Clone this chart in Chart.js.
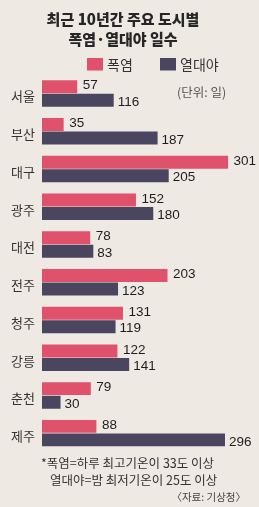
<!DOCTYPE html>
<html><head><meta charset="utf-8">
<script src="https://cdn.jsdelivr.net/npm/chart.js@4"></script>
<style>
html,body{margin:0;padding:0;background:#efe9e4;}
#wrap{position:relative;width:259px;height:507px;}
</style></head>
<body><div id="wrap"><canvas id="c" width="259" height="507"></canvas></div>
<script>
const titleLines = ['최근 10년간 주요 도시별', '폭염·열대야 일수'];
const categories = ['서울','부산','대구','광주','대전','전주','청주','강릉','춘천','제주'];
const seriesNames = ['폭염','열대야'];
const heatwave = [57,35,301,152,78,203,131,122,79,88];
const tropical = [116,187,205,180,83,123,119,141,30,296];
const unitText = '(단위: 일)';
const notes = ['*폭염=하루 최고기온이 33도 이상','열대야=밤 최저기온이 25도 이상'];
const source = '〈자료: 기상청〉';

const PINK = '#e0526c', DARK = '#4a4660';
const KR = '"Noto Sans CJK KR","Noto Sans",sans-serif';

const extras = {
  id:'extras',
  afterDatasetsDraw(chart){
    const ctx = chart.ctx;
    ctx.save();
    const legendX = [87, 160];
    chart.data.datasets.forEach((ds,di)=>{
      ctx.fillStyle = ds.backgroundColor;
      ctx.fillRect(legendX[di], 58, 16, 12.5);
      ctx.fillStyle = '#333';
      ctx.font = '14px '+KR;
      ctx.textBaseline = 'middle';
      ctx.textAlign = 'left';
      ctx.fillText(ds.label, legendX[di] + 20, 64.5);
    });
    ctx.font = '13.5px "Liberation Sans Narrow","Arial Narrow",sans-serif';
    ctx.fillStyle = '#1e1e1e';
    ctx.textBaseline = 'middle';
    ctx.textAlign = 'left';
    chart.data.datasets.forEach((ds,di)=>{
      chart.getDatasetMeta(di).data.forEach((bar,i)=>{
        ctx.fillText(String(ds.data[i]), bar.x + (di===1?4:5.5), bar.y + (di===1?2:-1));
      });
    });
    ctx.font = '12.5px '+KR;
    ctx.fillStyle = '#555';
    ctx.textAlign = 'left';
    ctx.fillText(unitText, 177, 92);
    ctx.fillStyle = '#333';
    ctx.font = '12.5px '+KR;
    ctx.fillText(notes[0], 41, 463);
    ctx.fillText(notes[1], 50, 480);
    ctx.font = '10.5px '+KR;
    ctx.fillStyle = '#444';
    ctx.textAlign = 'right';
    ctx.fillText(source, 246, 497);
    ctx.restore();
  }
};

new Chart(document.getElementById('c'), {
  type:'bar',
  data:{
    labels:categories,
    datasets:[
      {label:seriesNames[0], data:heatwave, backgroundColor:PINK},
      {label:seriesNames[1], data:tropical, backgroundColor:DARK}
    ]
  },
  options:{
    indexAxis:'y',
    responsive:false,
    animation:false,
    devicePixelRatio:1,
    categoryPercentage:0.716,
    barPercentage:0.96,
    layout:{padding:{top:0,left:0,right:13,bottom:55}},
    scales:{
      x:{display:false,min:0,max:330},
      y:{
        grid:{display:false,drawTicks:false},
        border:{display:false},
        ticks:{color:'#333',font:{family:KR,size:13},padding:7,labelOffset:3},
        afterFit(s){s.width=42;}
      }
    },
    plugins:{
      tooltip:{enabled:false},
      legend:{display:false},
      title:{display:true,text:titleLines,color:'#262626',
        font:{family:KR,size:15,weight:900,lineHeight:1.3},
        padding:{top:10,bottom:25.6}}
    }
  },
  plugins:[extras]
});
</script></body></html>
